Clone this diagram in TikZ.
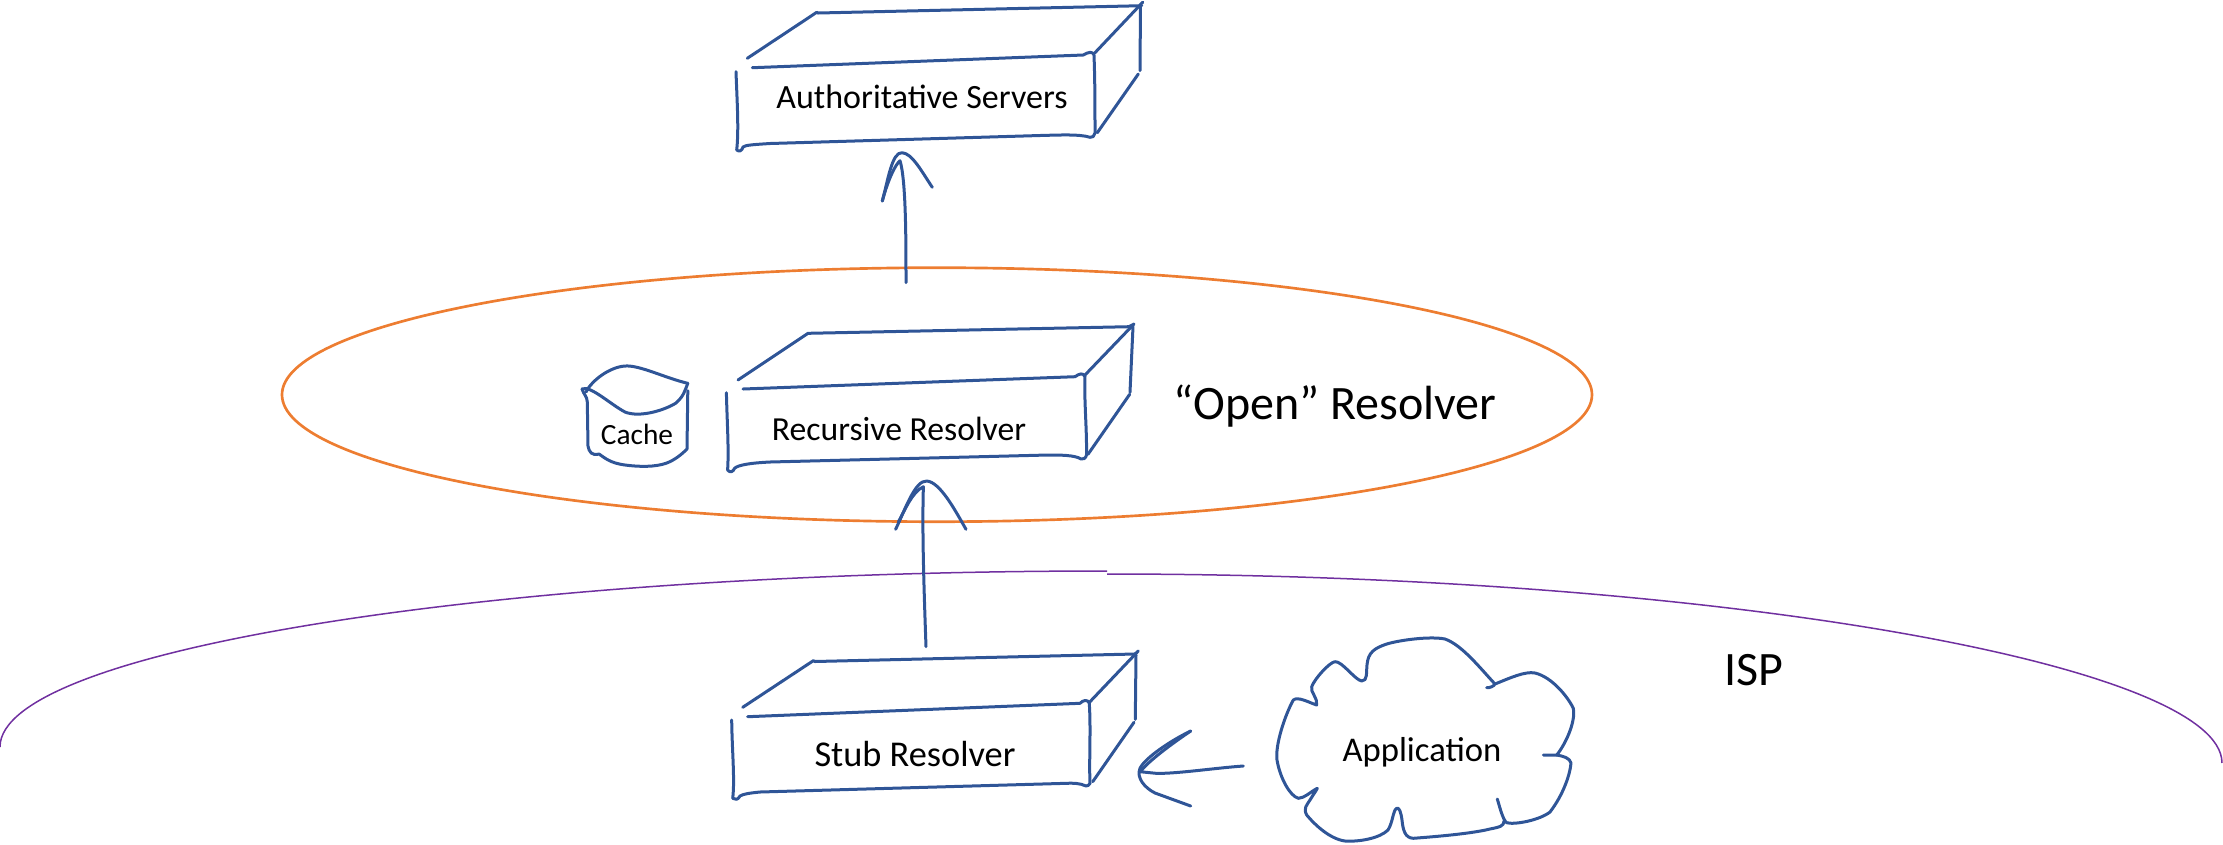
\documentclass[tikz,border=0pt]{standalone}
\usepackage{fontspec}
\setmainfont{Carlito}
\begin{document}
\begin{tikzpicture}[x=0.3pt,y=-0.3pt,
  sketch/.style={draw=skblue,line width=0.9pt,line cap=round,line join=round},
  ink/.style={font=\fontsize{#1}{11}\selectfont,text=black,inner sep=0pt},
  lab/.style={font=\fontsize{14.4}{15}\selectfont,text=black,inner sep=0pt}]
\definecolor{skblue}{HTML}{2F5597}
\definecolor{skorange}{HTML}{ED7D31}
\definecolor{skpurple}{HTML}{7030A0}
\useasboundingbox (0,0) rectangle (2223,844);
% ellipse
\draw[skorange,line width=0.8pt] (937,394.7) ellipse [x radius=655,y radius=127];
% ISP arc
\draw[skpurple,line width=0.45pt] (0,747) .. controls (0,650) and (496,571) .. (1107,571);
\draw[skpurple,line width=0.45pt] (1107,574) .. controls (1718,574) and (2222,665) .. (2222,763);
% Authoritative box
\draw[sketch] (747.3,58.3) -- (816.7,12.3) -- (818,13) -- (1141.7,5.7);
\draw[sketch] (1140,5) -- (1142.7,2.3) -- (1095,52.7);
\draw[sketch] (1140.5,5) -- (1140,70.7);
\draw[sketch] (1138.3,74) -- (1097.3,132.7);
\draw[sketch] (752.3,67.7) -- (1083.3,55) .. controls (1088,52) and (1093,51) .. (1094,55) .. controls (1095,80) and (1095,110) .. (1095,133) .. controls (1095,136) and (1092,138) .. (1090,137.3) .. controls (1080,134) and (1060,135) .. (1040,135.5) -- (770,143.5) .. controls (755,144.5) and (745,145) .. (743,147) .. controls (742,151) and (739,152) .. (736.7,150) .. controls (739,130) and (737,100) .. (736,71.7);
\node[ink=10.2] (auth) at (922,97) {Authoritative Servers};
% Recursive box
\draw[sketch] (738,380) -- (808,333.3) -- (1129,326.7);
\draw[sketch] (1129,326.7) -- (1134,324) -- (1085,375);
\draw[sketch] (1133,326.7) -- (1130,392.3);
\draw[sketch] (1129.7,394.3) -- (1088,454.3);
\draw[sketch] (743,389) -- (1075,376.7) .. controls (1079,374) and (1083,372) .. (1085,376.7) .. controls (1084,400) and (1087,430) .. (1086.5,455) .. controls (1086,458) and (1083,460) .. (1081,459) .. controls (1075,455) and (1060,455) .. (1048,455) -- (770,462) .. controls (750,463) and (738,465) .. (734.6,468.3) .. controls (733,472) and (730,473) .. (727.6,470) .. controls (729,450) and (727,420) .. (726.4,392.7);
\node[ink=10.1] (recr) at (899,429) {Recursive Resolver};
% Cache
\draw[sketch] (687.8,383.3) .. controls (665,378) and (640,365) .. (625,366) .. controls (610,367) and (592,380) .. (586,392);
\draw[sketch] (582,389) .. controls (590,385) and (610,404) .. (625,412) .. controls (640,418) and (665,410) .. (676,403) .. controls (684,396) and (685,390) .. (687.8,383.3);
\draw[sketch] (582,389) .. controls (584,395) and (587,396) .. (587.3,402) -- (588,446) .. controls (589,452) and (592,456) .. (599,454) .. controls (605,458) and (610,463) .. (625,465) .. controls (640,467) and (655,467) .. (666,463.3) .. controls (675,460) and (682,454) .. (687,449) -- (687.8,390.7);
\node[ink=8.8] (cache) at (637,434) {Cache};
% Stub box
\draw[sketch] (742.7,707.3) -- (813.3,660.7) -- (815,661.5) -- (1135,654);
\draw[sketch] (1135,654) -- (1138.3,651) -- (1090,701.7);
\draw[sketch] (1136,655) -- (1135.3,719.3);
\draw[sketch] (1134,722.3) -- (1092.7,781.7);
\draw[sketch] (747.7,716.7) -- (1080,703.3) .. controls (1083,700) and (1088,699) .. (1089.3,703.3) .. controls (1091,730) and (1089,760) .. (1090,783.3) .. controls (1089,785) and (1088,786) .. (1086,786) .. controls (1080,783) and (1072,783) .. (1066.7,783.3) -- (760,792) .. controls (750,793) and (743,794) .. (740,796) .. controls (738,800) and (735,800) .. (732.7,798.3) .. controls (735,780) and (732,750) .. (731.7,720);
\node[ink=10.9] (stub) at (915,754) {Stub Resolver};
% Cloud
\draw[sketch] (1486.7,687.7) .. controls (1490,688) and (1494,686) .. (1495,684) .. controls (1510,678) and (1525,671) .. (1535,673) .. controls (1552,677) and (1568,697) .. (1573.3,708.3) .. controls (1576,722) and (1565,745) .. (1556.7,755) -- (1543.3,755);
\draw[sketch] (1556.7,755) .. controls (1563,756) and (1570,758) .. (1571,763) .. controls (1570,775) and (1563,795) .. (1550,812) .. controls (1540,820) and (1515,825) .. (1506.7,822.7) .. controls (1503,820) and (1500,808) .. (1497.3,799);
\draw[sketch] (1504,821) .. controls (1504,826) and (1500,827) .. (1490,829) .. controls (1470,834) and (1430,837) .. (1413.3,838.3) .. controls (1405,838) and (1403,830) .. (1402,820) .. controls (1401,812) and (1399,807) .. (1396.7,808.3) .. controls (1393,810) and (1393,822) .. (1388,830) .. controls (1380,838) and (1360,842) .. (1345,841) .. controls (1330,839) and (1315,825) .. (1306.7,815) .. controls (1303,808) and (1307,805) .. (1310,800) .. controls (1313,795) and (1316,791) .. (1317.3,788.3) .. controls (1310,792) and (1305,798) .. (1298.3,798.3) .. controls (1290,796) and (1280,778) .. (1277,760) .. controls (1275,745) and (1285,715) .. (1293.3,700) .. controls (1298,696) and (1310,703) .. (1316.7,705) .. controls (1318,698) and (1310,692) .. (1311.7,686.7) .. controls (1315,678) and (1330,662) .. (1335,661.7) .. controls (1342,661) and (1355,680) .. (1361.7,681) .. controls (1368,681) and (1366,672) .. (1367,665) .. controls (1368,652) and (1375,648) .. (1386.7,644) .. controls (1400,640) and (1430,636) .. (1445,639) .. controls (1462,645) and (1480,668) .. (1495,684);
\node[ink=10.4] (app) at (1422,752) {Application};
% Labels
\node[lab] (open) at (1335,406) {“Open” Resolver};
\node[lab] (isp) at (1754,670) {ISP};
% Arrows
\coordinate (a1) at (906,282.7);
\coordinate (a1t) at (900,160.7);
\draw[sketch] (a1) .. controls (906,240) and (906,180) .. (a1t) .. controls (895,165) and (888,180) .. (882.3,201);
\draw[sketch] (882.3,201) .. controls (888,180) and (892,152) .. (902,152.7) .. controls (912,153) and (922,172) .. (932.3,187.3);
\coordinate (a2) at (926,646.7);
\coordinate (a2t) at (923.4,486.7);
\draw[sketch] (a2) .. controls (924,590) and (922,530) .. (a2t) .. controls (912,492) and (905,510) .. (898.5,521.7);
\draw[sketch] (895.6,529.3) .. controls (905,510) and (915,480) .. (926.8,481) .. controls (940,482) and (955,510) .. (966,529.3);
\coordinate (a3) at (1243.3,766);
\coordinate (a3t) at (1140,771.7);
\draw[sketch] (a3) .. controls (1215,768) and (1175,774) .. (1156,773.3) -- (a3t) .. controls (1150,760) and (1170,745) .. (1190.7,731);
\draw[sketch] (1190.7,731) .. controls (1170,741) and (1145,758) .. (1140,768.3) .. controls (1136,778) and (1145,788) .. (1155,793) -- (1190.7,806);
\end{tikzpicture}
\end{document}
